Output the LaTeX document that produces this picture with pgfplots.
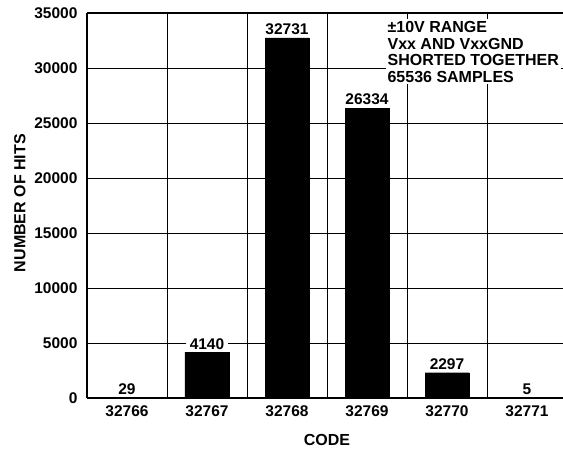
\documentclass[border=0pt]{standalone}
\usepackage{pgfplots}
\pgfplotsset{compat=1.18}
\usepackage{fontspec}
\setmainfont{Liberation Sans}
\newcommand\lbl{\bfseries\fontsize{15.5}{16}\selectfont}
\newcommand\lblbig{\bfseries\fontsize{16}{16.6}\selectfont}
\begin{document}
\begin{tikzpicture}
\begin{axis}[
  name=ax, at={(0,0)}, anchor=south west,
  scale only axis, width=476pt, height=385pt,
  xmin=-0.5, xmax=5.45, ymin=0, ymax=35000,
  axis lines*=left, axis line style={-, line width=1.2pt},
  clip=false,
  ybar, bar width=0.55,
  xtick={0,...,5},
  xticklabels={32766,32767,32768,32769,32770,32771},
  minor xtick={0.5,1.5,2.5,3.5,4.5},
  ytick={0,5000,...,35000},
  xminorgrids=true, ymajorgrids=true,
  grid style={black, line width=0.7pt},
  minor grid style={black, line width=0.7pt},
  major tick length=0pt, minor tick length=0pt,
  scaled y ticks=false,
  /pgf/number format/1000 sep={},
  /pgf/number format/assume math mode=true,
  tick label style={font=\lbl},
  yticklabel style={xshift=-6pt},
  xticklabel style={yshift=-4pt},
  nodes near coords,
  nodes near coords style={font=\lbl, fill=white, inner xsep=4pt, inner ysep=1pt, yshift=2pt},
  xlabel={CODE}, ylabel={NUMBER OF HITS},
  every axis x label/.style={at={(axis description cs:0.504,-0.109)}, anchor=center, font=\lblbig},
  every axis y label/.style={at={(axis description cs:-0.141,0.506)}, anchor=center, rotate=90, font=\lblbig},
]
\addplot[fill=black, draw=black] coordinates {(0,29) (1,4140) (2,32731) (3,26334) (4,2297) (5,5)};
\node[anchor=north west, fill=white, align=left, inner xsep=2pt, inner ysep=2pt, font=\lblbig]
  at (axis cs:3.23,34450) {±10V RANGE\\Vxx AND VxxGND\\SHORTED TOGETHER\\65536 SAMPLES};
\draw[line width=1.2pt] (rel axis cs:0,1) -- (rel axis cs:1,1);
\end{axis}
\pgfresetboundingbox
\path ([shift={(-87pt,-52pt)}]ax.south west) rectangle ([shift={(0pt,13pt)}]ax.north east);
\end{tikzpicture}
\end{document}
